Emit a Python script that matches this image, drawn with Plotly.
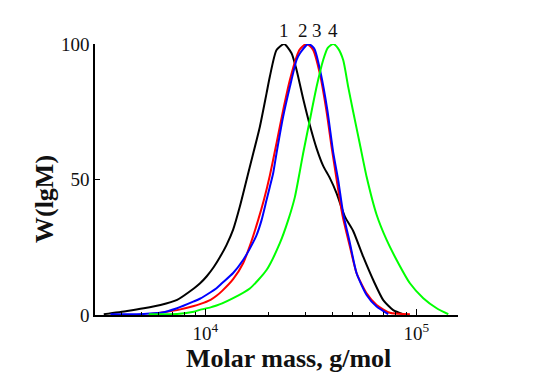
import math
import plotly.graph_objects as go

# ---- data ----
m1 = [3300, 4260, 5110, 6130, 7350, 8820, 9420, 10160, 10970, 11720, 12600, 13550,
      14580, 16260, 18140, 19510, 20230, 21760, 23650, 25640, 27080, 29100, 31310,
      33690, 36210, 38960, 41930, 45890, 50240, 56050, 62520, 69750, 77790, 86770]
w1 = [0.3, 1.5, 2.5, 3.7, 5.6, 9.8, 11.6, 14.3, 17.7, 21.3, 25.8, 31.5,
      40, 54.7, 69.5, 81.8, 88, 97.8, 100, 96.6, 90.4, 79.8, 70,
      61.5, 55, 50.5, 44.9, 36.3, 31.0, 21.5, 12.9, 5.5, 1.8, 0.3]

m2 = [5395, 7350, 8820, 9420, 10590, 11300, 12020, 13550, 15110, 16260, 17800,
      18950, 20230, 21760, 23390, 25170, 27080, 28060, 29980, 31310, 32460, 34930,
      37580, 39690, 41930, 44270, 45050, 48490, 52150, 58170, 64880, 75030, 93340]
w2 = [0.3, 1.8, 3.3, 4.0, 5.6, 7.1, 8.9, 13.2, 19.1, 25.5, 35,
      42.4, 51.5, 63.4, 75.6, 86.7, 95.3, 98, 100, 99.3, 97.8, 89,
      75, 62, 50, 38.5, 35.5, 25.2, 15.4, 8, 3.7, 0.8, 0.3]

m3 = [3550, 5110, 6130, 7350, 8820, 9420, 10590, 11300, 12020, 13550, 15110,
      16260, 17500, 18480, 19510, 20230, 20970, 21760, 23390, 25170, 27080, 28060,
      30740, 32460, 33070, 35250, 37900, 40400, 42660, 45050, 48490, 52150, 58170,
      64880, 73660]
w3 = [0.3, 0.4, 0.8, 2.5, 5.0, 6.0, 8.4, 9.9, 11.8, 15.5, 20.3,
      24.5, 29.5, 35, 42.4, 47.3, 52.3, 59.7, 73.2, 84.2, 94.1, 96.5,
      100, 98.8, 97.8, 89.2, 75.6, 60, 49.8, 37.5, 26.5, 15.4, 7.4,
      3.1, 0.3]

m4 = [5395, 7350, 8820, 9420, 10590, 11300, 12020, 13550, 16260, 19510, 22560,
      24710, 26580, 28060, 29100, 31310, 33690, 36210, 38000, 40400, 42500, 45050,
      47580, 50240, 54060, 58170, 64880, 72380, 80720, 93340, 108000, 125000, 141900]
w4 = [0.3, 0.4, 1.2, 1.9, 2.8, 3.5, 4.3, 6.2, 9.8, 16.6, 26.5,
      35, 43.5, 53, 59.7, 72, 84.2, 94.1, 98.5, 100, 98.5, 94.1,
      84.2, 75, 63, 51, 37, 27.7, 20.3, 11.7, 6.2, 2.5, 0.3]

series = [(m1, w1, "#000000", "1"), (m2, w2, "#ff0000", "2"),
          (m3, w3, "#0000ff", "3"), (m4, w4, "#00ff00", "4")]

curve_labels = ["1", "2", "3", "4"]
label_m = [23580, 29100, 33690, 40400]

x_ticks = [1e4, 1e5]
x_ticktext = ["10<sup>4</sup>", "10<sup>5</sup>"]
x_minor = [k * 10 ** e for e in (3, 4) for k in range(2, 10)]
y_ticks = [0, 50, 100]

SERIF = "Liberation Serif"

fig = go.Figure()
for m, w, c, name in series:
    fig.add_trace(go.Scatter(x=m, y=w, mode="lines", name=name,
                             line=dict(color=c, width=2, shape="spline", smoothing=0.6)))

for t, xm in zip(curve_labels, label_m):
    fig.add_annotation(x=math.log10(xm), y=1, xref="x", yref="paper", text=t,
                       showarrow=False, yanchor="middle", yshift=14,
                       font=dict(family=SERIF, size=19, color="#111111"))

fig.add_annotation(x=0.532, y=-0.159, xref="paper", yref="paper",
                   text="<b>Molar mass, g/mol</b>", showarrow=False,
                   xanchor="center", yanchor="middle",
                   font=dict(family=SERIF, size=26, color="#111111"))
fig.add_annotation(x=-0.1405, y=0.428, xref="paper", yref="paper",
                   text="<b>W(lgM)</b>", showarrow=False, textangle=-90,
                   xanchor="center", yanchor="middle",
                   font=dict(family=SERIF, size=26, color="#111111"))

fig.update_layout(
    width=534, height=379,
    margin=dict(l=87, r=84, t=36, b=72),
    paper_bgcolor="white", plot_bgcolor="white",
    showlegend=False,
)
fig.update_xaxes(type="log", range=[3.477, 5.198],
                 tickvals=x_ticks, ticktext=x_ticktext,
                 ticks="inside", ticklen=6, tickwidth=1.3, tickcolor="black",
                 minor=dict(tickvals=x_minor, ticks="inside", ticklen=3,
                            tickwidth=1, tickcolor="black", showgrid=False),
                 showline=True, linecolor="black", linewidth=1.5,
                 showgrid=False, zeroline=False,
                 tickfont=dict(family=SERIF, size=19, color="#111111"))
fig.update_yaxes(range=[0, 100], tickvals=y_ticks,
                 ticks="inside", ticklen=5, tickwidth=1.3, tickcolor="black",
                 showline=True, linecolor="black", linewidth=1.5,
                 showgrid=False, zeroline=False,
                 tickfont=dict(family=SERIF, size=19, color="#111111"))

fig.write_html("out.html")
